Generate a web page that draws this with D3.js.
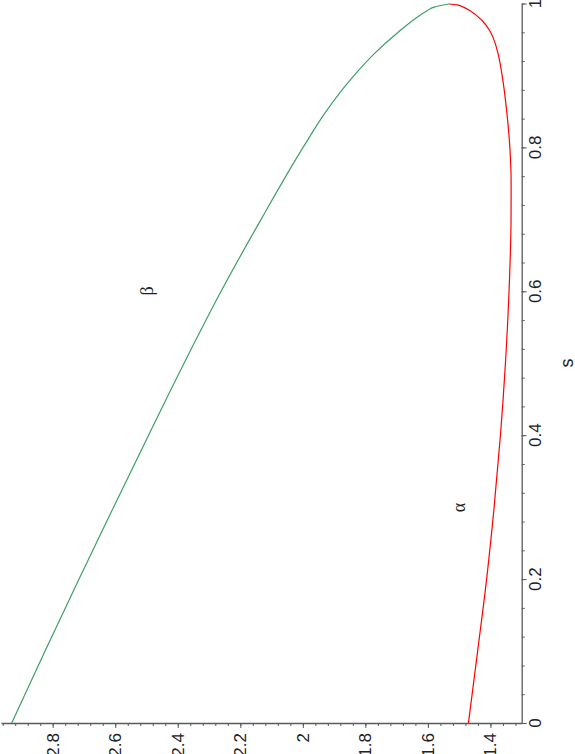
<!DOCTYPE html>
<html><head><meta charset="utf-8">
<script src="https://cdn.jsdelivr.net/npm/d3@7"></script>
<style>body{margin:0;background:#fff}</style>
</head><body>
<svg id="c" width="575" height="754"></svg>
<script>
// s values and alpha curve
const sAlpha = [0, 0.1, 0.2, 0.3, 0.4, 0.5, 0.6, 0.7, 0.75, 0.8, 0.85, 0.9, 0.93, 0.945, 0.96, 0.977, 0.99, 0.995, 0.998, 0.9993];
const alpha  = [1.4704, 1.4409, 1.4122, 1.3882, 1.3680, 1.3520, 1.3405, 1.3341, 1.3338, 1.3379, 1.3479, 1.3626, 1.3754, 1.3850, 1.3994, 1.4282, 1.4649, 1.4864, 1.5065, 1.5337];
// s values and beta curve
const sBeta = [0, 0.1, 0.2, 0.3, 0.4, 0.5, 0.6, 0.7, 0.8, 0.85, 0.9, 0.93, 0.96, 0.98, 0.99, 0.995, 0.9993];
const beta  = [2.9311, 2.8245, 2.7158, 2.6054, 2.4934, 2.3799, 2.2615, 2.1335, 1.9992, 1.9256, 1.8360, 1.7720, 1.6953, 1.6377, 1.6025, 1.5801, 1.5337];
// ticks
const valueTicks = [1.4, 1.6, 1.8, 2, 2.2, 2.4, 2.6, 2.8];
const valueTickLabels = ["1.4", "1.6", "1.8", "2", "2.2", "2.4", "2.6", "2.8"];
const sTicks = [0, 0.2, 0.4, 0.6, 0.8, 1];
const sTickLabels = ["0", "0.2", "0.4", "0.6", "0.8", "1"];
const valueDomain = [1.3, 2.9654];
const sDomain = [0, 1];

const svg = d3.select("#c");
const axisY = 723, axisX = 521.7;
const x = d3.scaleLinear().domain(valueDomain).range([axisX, 1]);
const y = d3.scaleLinear().domain(sDomain).range([axisY, 3.5]);
const axisColor = "#5a5a5a";
const tickFont = "Liberation Sans, Arial, Helvetica, sans-serif";

// minor ticks
const vMinor = d3.range(33, 75).map(k => +(k * 0.04).toFixed(2)).filter(v => v >= valueDomain[0] && v <= valueDomain[1]);
const sMinor = d3.range(0, 26).map(k => +(k * 0.04).toFixed(2));

const gx = svg.append("g").attr("transform", `translate(0,${axisY})`);
gx.call(d3.axisBottom(x).tickValues(vMinor).tickSize(3).tickFormat("").tickSizeOuter(0));
const gx2 = svg.append("g").attr("transform", `translate(0,${axisY})`);
gx2.call(d3.axisBottom(x).tickValues(valueTicks).tickSize(5).tickFormat("").tickSizeOuter(0));
gx2.select(".domain").remove();

const gy = svg.append("g").attr("transform", `translate(${axisX},0)`);
gy.call(d3.axisRight(y).tickValues(sMinor).tickSize(3).tickFormat("").tickSizeOuter(0));
const gy2 = svg.append("g").attr("transform", `translate(${axisX},0)`);
gy2.call(d3.axisRight(y).tickValues(sTicks).tickSize(5).tickFormat("").tickSizeOuter(0));
gy2.select(".domain").remove();

svg.selectAll(".domain").attr("stroke", axisColor).attr("stroke-width", 1.3);
svg.selectAll(".tick line").attr("stroke", axisColor).attr("stroke-width", 1);

// value tick labels (rotated)
svg.append("g").selectAll("text").data(valueTicks).join("text")
  .attr("transform", d => `translate(${x(d)},733) rotate(-90)`)
  .attr("text-anchor", "end").attr("dy", "0.35em")
  .attr("font-family", tickFont).attr("font-size", 17).attr("fill", "#222")
  .text((d, i) => valueTickLabels[i]);

// s tick labels (rotated)
svg.append("g").selectAll("text").data(sTicks).join("text")
  .attr("transform", d => `translate(535,${y(d)}) rotate(-90)`)
  .attr("text-anchor", "middle").attr("dy", "0.35em")
  .attr("font-family", tickFont).attr("font-size", 17).attr("fill", "#222")
  .text((d, i) => sTickLabels[i]);

// axis title
svg.append("text").attr("transform", "translate(573,363) rotate(-90)")
  .attr("text-anchor", "middle").attr("font-family", tickFont).attr("font-size", 18).attr("fill", "#222").text("s");

// curves
const line = d3.line().x(d => x(d[1])).y(d => y(d[0])).curve(d3.curveMonotoneY);
svg.append("path").datum(sBeta.map((s, i) => [s, beta[i]]))
  .attr("d", line).attr("fill", "none").attr("stroke", "#3f9e68").attr("stroke-width", 1.2);
svg.append("path").datum(sAlpha.map((s, i) => [s, alpha[i]]))
  .attr("d", line).attr("fill", "none").attr("stroke", "#ff0000").attr("stroke-width", 1.2);

// curve labels
const mathFont = "Liberation Serif, DejaVu Serif, serif";
svg.append("text").attr("transform", "translate(465,507.5) rotate(-90)")
  .attr("text-anchor", "middle").attr("font-family", mathFont).attr("font-size", 18).attr("fill", "#222").text("α");
svg.append("text").attr("transform", "translate(153,291) rotate(-90)")
  .attr("text-anchor", "middle").attr("font-family", mathFont).attr("font-size", 18).attr("fill", "#222").text("β");
</script>
</body></html>
